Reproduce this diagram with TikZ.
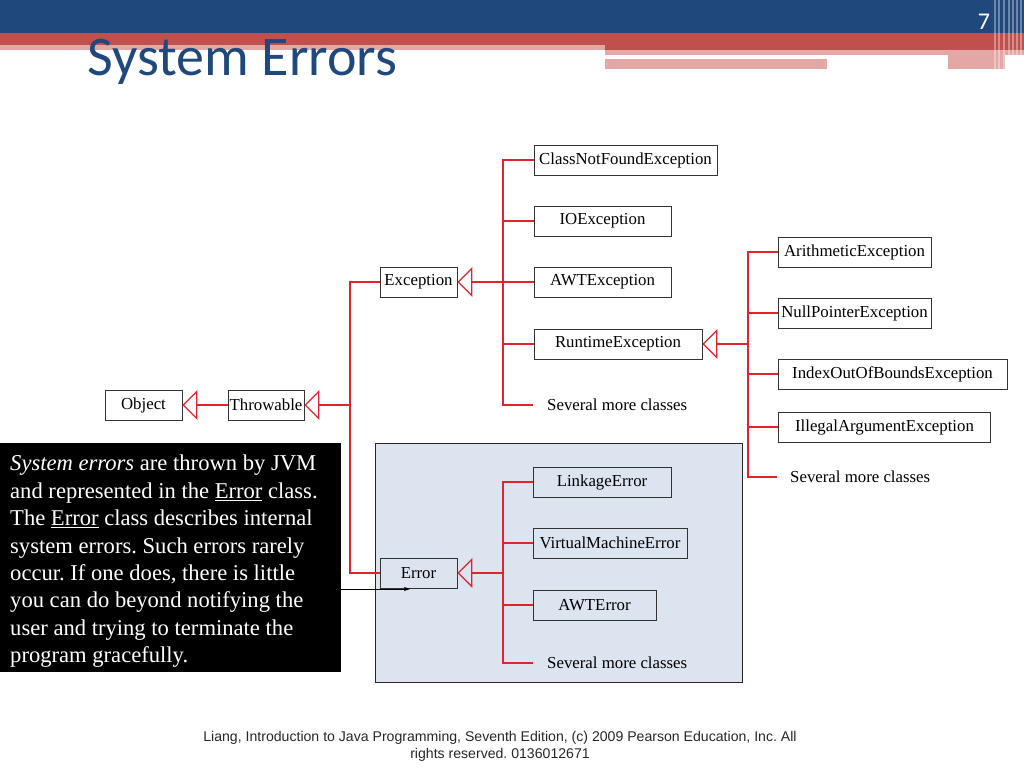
\documentclass[tikz,border=0pt]{standalone}
\usepackage{fontspec}
\setmainfont{Liberation Serif}
\newfontfamily\hdrfont{Carlito}
\newfontfamily\footfont{Liberation Sans}
\usetikzlibrary{arrows.meta}
\definecolor{hdrblue}{HTML}{1F497D}
\definecolor{hdrred}{HTML}{C0504D}
\definecolor{hdrpink}{HTML}{E3A7A6}
\definecolor{umlred}{HTML}{E0242A}
\definecolor{panelblue}{HTML}{DCE4F0}
\frenchspacing
\begin{document}
\begin{tikzpicture}[x=1pt,y=-1pt,
  cls/.style={draw=black!80, line width=0.8pt, fill=white, inner sep=0pt,
    minimum height=30pt, font=\fontsize{16.8}{20}\selectfont},
  more/.style={anchor=west, inner xsep=14pt, inner ysep=0pt, font=\fontsize{16.8}{20}\selectfont},
  con/.style={draw=umlred, line width=1.3pt},
  inh/.style={con, -{Triangle[open, length=15pt, width=30pt]}},
]
\useasboundingbox (0,0) rectangle (1024,768);
% header
\fill[hdrblue] (0,0) rectangle (1024,33);
\fill[hdrred] (0,33) rectangle (1024,45);
\fill[hdrpink] (0,45) rectangle (605,50);
\fill[hdrred] (605,45) rectangle (1024,50.5);
\fill[hdrpink] (605,50.5) rectangle (1024,55);
\fill[hdrpink] (605,59) rectangle (827,69);
\fill[hdrpink] (948,55) rectangle (1005,69);
\foreach \sx in {995,999,1004,1009,1013,1017,1021}
  \draw[white, opacity=0.35, line width=1.4pt] (\sx,0) -- (\sx,69);
\node[anchor=base west, inner sep=0pt, text=hdrblue, font=\hdrfont\fontsize{56}{62}\selectfont] (title) at (87,75) {System Errors};
\node[anchor=base, inner sep=0pt, text=white, font=\hdrfont\fontsize{24}{28}\selectfont] (pnum) at (984,30) {7};

% error panel
\node[draw=black!85, line width=0.8pt, fill=panelblue, anchor=north west, inner sep=0pt,
  minimum width=367pt, minimum height=239pt] (panel) at (375,443) {};

% classes
\node[cls, minimum width=77pt] (object) at (143.5,405) {Object};
\node[cls, minimum width=76pt] (throwable) at (266,405) {Throwable};
\node[cls, minimum width=77pt] (exception) at (418.5,282) {Exception};
\node[cls, minimum width=77pt, fill=panelblue] (error) at (418.5,573) {Error};

\node[cls, minimum width=183pt] (cnf) at (625.5,160) {ClassNotFoundException};
\node[cls, minimum width=137pt] (ioe) at (602.5,221) {IOException};
\node[cls, minimum width=137pt] (awte) at (602.5,282) {AWTException};
\node[cls, minimum width=168pt] (rte) at (618,344) {RuntimeException};
\node[more] (moreA) at (533,405) {Several more classes};

\node[cls, minimum width=153pt] (arith) at (854.5,252) {ArithmeticException};
\node[cls, minimum width=153pt] (npe) at (854.5,313) {NullPointerException};
\node[cls, minimum width=229pt] (ioob) at (892.5,374) {IndexOutOfBoundsException};
\node[cls, minimum width=212pt] (iae) at (884.5,427) {IllegalArgumentException};
\node[more, inner xsep=13pt] (moreR) at (777,477) {Several more classes};

\node[cls, minimum width=138pt, fill=panelblue] (link) at (602,482) {LinkageError};
\node[cls, minimum width=154pt, fill=panelblue] (vme) at (610,543) {VirtualMachineError};
\node[cls, minimum width=123pt, fill=panelblue] (awterr) at (594.5,605) {AWTError};
\node[more] (moreE) at (533,663) {Several more classes};

% junctions
\coordinate (jT) at (350,405);
\coordinate (jX) at (503,282);
\coordinate (jR) at (748,344);
\coordinate (jE) at (503,573);

% connectors
\draw[inh] (throwable.west) -- (object.east);
\draw[inh] (jT) -- (throwable.east);
\draw[con] (exception.west) -| (jT) |- (error.west);

\draw[inh] (jX) -- (exception.east);
\draw[con] (cnf.west) -| (jX);
\draw[con] (ioe.west) -| (jX);
\draw[con] (awte.west) -- (jX);
\draw[con] (moreA.west) -| (jX);
\draw[con] (rte.west) -| (jX);

\draw[inh] (jR) -- (rte.east);
\draw[con] (arith.west) -| (jR);
\draw[con] (npe.west) -| (jR);
\draw[con] (ioob.west) -| (jR);
\draw[con] (iae.west) -| (jR);
\draw[con] (moreR.west) -| (jR);

\draw[inh] (jE) -- (error.east);
\draw[con] (link.west) -| (jE);
\draw[con] (vme.west) -| (jE);
\draw[con] (awterr.west) -| (jE);
\draw[con] (moreE.west) -| (jE);

% note
\node[fill=black, anchor=north west, inner sep=0pt, minimum width=341pt, minimum height=229pt] (note) at (0,443) {};
\node[anchor=north west, inner sep=0pt, text=white, align=left,
  font=\fontsize{22.6}{27.4}\selectfont] (notetext) at (10,455) {%
\textit{System errors} are thrown by JVM\\
and represented in the \underline{Error} class.\\
The \underline{Error} class describes internal\\
system errors. Such errors rarely\\
occur. If one does, there is little\\
you can do beyond notifying the\\
user and trying to terminate the\\
program gracefully.};
\coordinate (errarrow) at (410,589);
\draw[black, line width=0.7pt, -{Stealth[length=6pt, width=4pt]}] (note.east |- errarrow) -- (errarrow);

% footer
\node[align=center, inner sep=0pt, text=black!85, font=\footfont\fontsize{14.1}{17}\selectfont] (footer) at (500,746)
 {Liang, Introduction to Java Programming, Seventh Edition, (c) 2009 Pearson Education, Inc. All\\ rights reserved. 0136012671};
\end{tikzpicture}
\end{document}
